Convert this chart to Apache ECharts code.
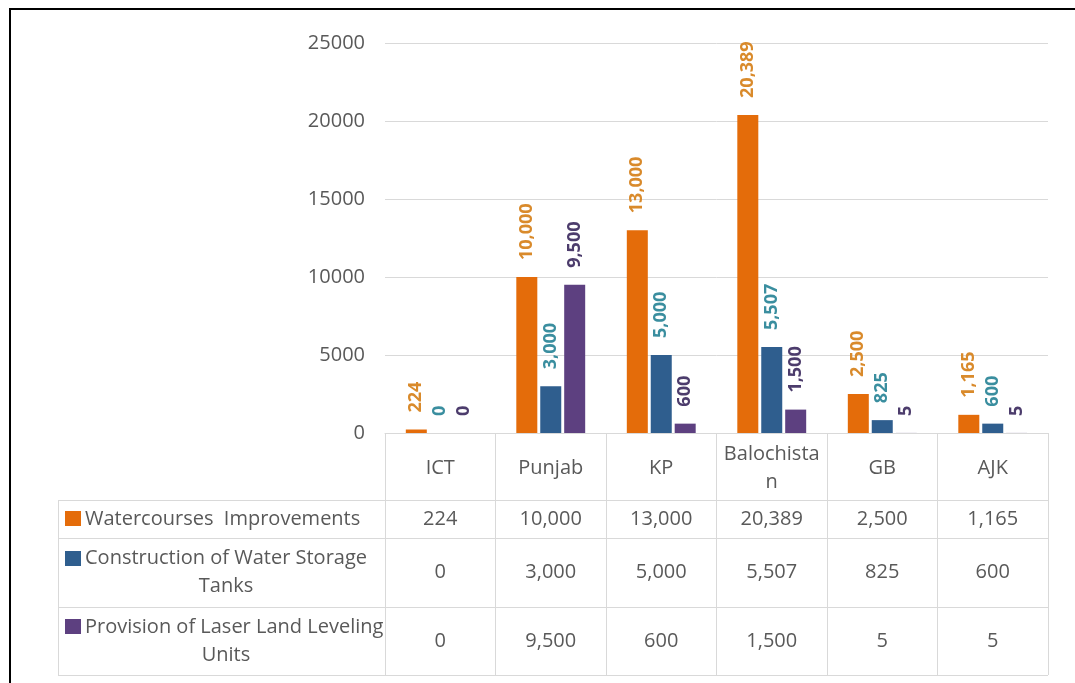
<!DOCTYPE html>
<html><head><meta charset="utf-8">
<script src="https://cdn.jsdelivr.net/npm/echarts@6/dist/echarts.min.js"></script>
<style>html,body{margin:0;padding:0;background:#fff}#c{width:1075px;height:683px}</style>
</head><body><div id="c"></div>
<script>
// ---- data ----
const categories = ['ICT', 'Punjab', 'KP', 'Balochistan', 'GB', 'AJK'];
const seriesNames = ['Watercourses  Improvements', 'Construction of Water Storage Tanks', 'Provision of Laser Land Leveling Units'];
const watercourses = [224, 10000, 13000, 20389, 2500, 1165];
const storageTanks = [0, 3000, 5000, 5507, 825, 600];
const laserUnits = [0, 9500, 600, 1500, 5, 5];
const yMin = 0, yMax = 25000, yStep = 5000;

// ---- styles ----
const barColors = ['#E46C0A', '#2F5E8E', '#5D4080'];
const labelColors = ['#D98A2B', '#3A8E9F', '#4C3C6C'];
const FONT = '"Open Sans", "DejaVu Sans", sans-serif';
const TXT = '#595959';
const LINE = '#d9d9d9';
const GRID_LEFT = 385, GRID_RIGHT = 27, GRID_TOP = 43, GRID_BOTTOM = 250;
const TABLE_LEFT = 58;
const ROW_LINES = [500, 538, 607, 675];
const LEG_SQ_X = 65, LEG_TXT_X = 85, LEG_MAX_W = 300, LEG_LINE2_CX = 226, LEG_LH = 28;

const allSeries = [watercourses, storageTanks, laserUnits];
const fmt = v => v.toLocaleString('en-US');

// word wrap helper using canvas text measuring
const mctx = document.createElement('canvas').getContext('2d');
mctx.font = '20px ' + FONT;
function wrap(text, maxW) {
  const words = text.split(' ');
  const lines = [];
  let cur = '';
  words.forEach(w => {
    const test = cur === '' ? w : cur + ' ' + w;
    if (cur !== '' && w !== '' && mctx.measureText(test).width > maxW) { lines.push(cur); cur = w; }
    else cur = test;
  });
  lines.push(cur);
  return lines;
}

const chart = echarts.init(document.getElementById('c'), null, {renderer: 'canvas'});
chart.setOption({
  animation: false,
  backgroundColor: '#fff',
  textStyle: {fontFamily: FONT},
  grid: {left: GRID_LEFT, right: GRID_RIGHT, top: GRID_TOP, bottom: GRID_BOTTOM, containLabel: false},
  xAxis: {
    type: 'category', data: categories,
    axisLine: {show: true, lineStyle: {color: LINE, width: 1}},
    axisTick: {show: true, length: 242, lineStyle: {color: LINE, width: 1}},
    axisLabel: {color: TXT, fontSize: 20, fontFamily: FONT, margin: 35, verticalAlign: 'middle',
      lineHeight: 28, width: 100, overflow: 'break', interval: 0}
  },
  yAxis: {
    type: 'value', min: yMin, max: yMax, interval: yStep,
    axisLine: {show: false}, axisTick: {show: false},
    splitLine: {lineStyle: {color: LINE, width: 1}},
    axisLabel: {color: TXT, fontSize: 20, fontFamily: FONT, margin: 20, formatter: v => String(v)}
  },
  series: allSeries.map((d, i) => ({
    type: 'bar', name: seriesNames[i], data: d,
    barWidth: 21, barGap: '14%',
    itemStyle: {color: barColors[i]},
    label: {show: true, position: 'top', rotate: 90, align: 'left', verticalAlign: 'middle',
      distance: 17, color: labelColors[i], fontSize: 18, fontWeight: 'bold', fontFamily: FONT,
      formatter: p => fmt(p.value)}
  }))
});

// ---- data table below the plot ----
const gridRightX = 1075 - GRID_RIGHT;
const g = [];
// frame
g.push({type: 'rect', shape: {x: 10, y: 9, width: 1200, height: 800}, silent: true,
  style: {fill: 'none', stroke: '#000', lineWidth: 2}});
// horizontal row lines
ROW_LINES.forEach(y => g.push({type: 'line', shape: {x1: TABLE_LEFT, y1: y + 0.5, x2: gridRightX, y2: y + 0.5},
  style: {stroke: LINE, lineWidth: 1}, silent: true}));
g.push({type: 'line', shape: {x1: TABLE_LEFT + 0.5, y1: ROW_LINES[0], x2: TABLE_LEFT + 0.5, y2: ROW_LINES[ROW_LINES.length - 1]},
  style: {stroke: LINE, lineWidth: 1}, silent: true});
// legend cells + values
allSeries.forEach((d, r) => {
  const yTop = ROW_LINES[r], yBot = ROW_LINES[r + 1], yc = (yTop + yBot) / 2;
  const lines = wrap(seriesNames[r], LEG_MAX_W);
  const y0 = yc - (lines.length - 1) * LEG_LH / 2;
  g.push({type: 'rect', shape: {x: LEG_SQ_X, y: Math.round(y0 - 8), width: 16, height: 15},
    style: {fill: barColors[r]}, silent: true});
  lines.forEach((ln, k) => {
    g.push({type: 'text', x: k === 0 ? LEG_TXT_X : LEG_LINE2_CX, y: y0 + k * LEG_LH, silent: true,
      style: {text: ln, align: k === 0 ? 'left' : 'center', verticalAlign: 'middle',
        fontFamily: FONT, fontSize: 20, fill: TXT}});
  });
  d.forEach((v, c) => {
    const x = chart.convertToPixel({xAxisIndex: 0}, c);
    g.push({type: 'text', x: x, y: yc, silent: true,
      style: {text: fmt(v), align: 'center', verticalAlign: 'middle', fontFamily: FONT, fontSize: 20, fill: TXT}});
  });
});
chart.setOption({graphic: g});
</script></body></html>
